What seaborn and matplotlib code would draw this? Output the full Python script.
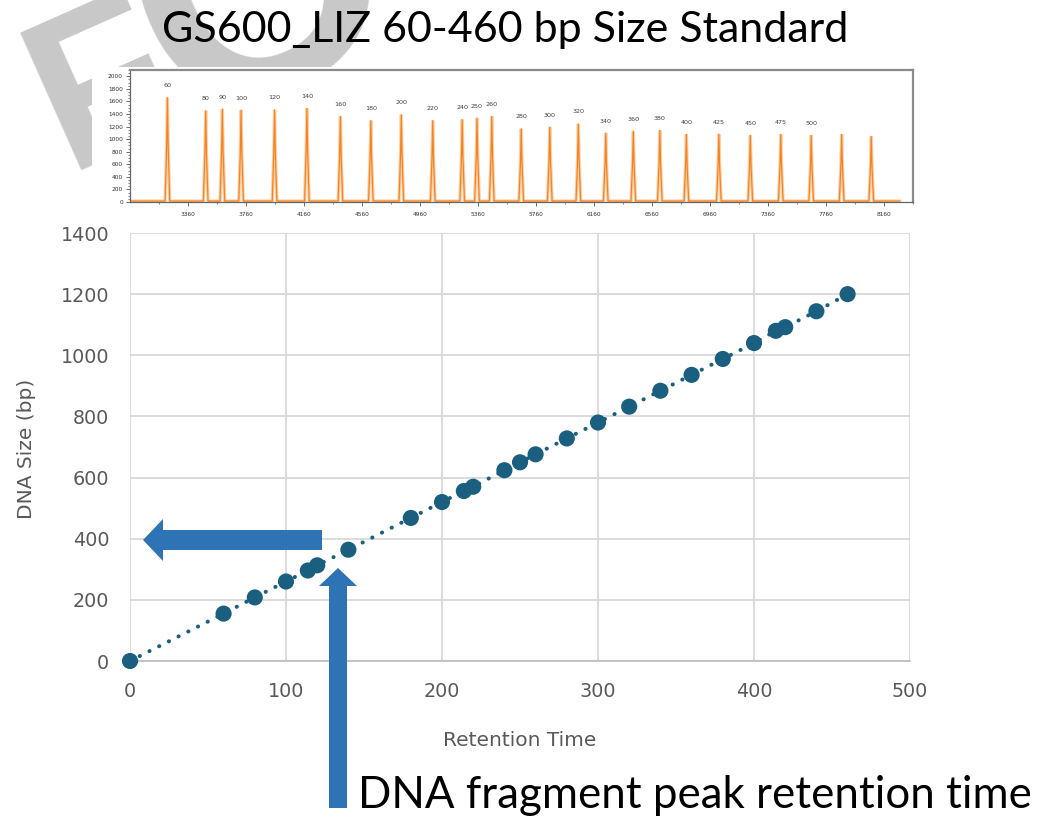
import numpy as np
import pandas as pd
import matplotlib
matplotlib.use("Agg")
import matplotlib.pyplot as plt
import seaborn as sns
from matplotlib.patches import FancyArrow, Rectangle

# ---------------- data ----------------
retention_time = [0, 60, 80, 100, 114, 120, 140, 180, 200, 214, 220, 240, 250, 260,
                  280, 300, 320, 340, 360, 380, 400, 414, 420, 440, 460]
dna_size_bp = [0, 155, 208, 260, 296, 313, 364, 468, 520, 556, 570, 624, 650, 676,
               728, 780, 832, 884, 936, 988, 1040, 1080, 1092, 1144, 1200]

# electropherogram inset (peak scan position, peak height, label)
peak_scan = [3218, 3482, 3597, 3726, 3957, 4180, 4411, 4621, 4831, 5048, 5251, 5353,
             5455, 5658, 5855, 6052, 6241, 6431, 6614, 6797, 7021, 7238, 7448, 7658,
             7868, 8072]
peak_height = [1660, 1452, 1478, 1463, 1467, 1488, 1362, 1295, 1389, 1295, 1311, 1337,
               1362, 1165, 1190, 1242, 1096, 1128, 1138, 1075, 1081, 1060, 1075, 1060,
               1075, 1044]
peak_label = ["60", "80", "90", "100", "120", "140", "160", "180", "200", "220", "240",
              "250", "260", "280", "300", "320", "340", "360", "380", "400", "425", "450",
              "475", "500", "", ""]
inset_xticks = [3360, 3760, 4160, 4560, 4960, 5360, 5760, 6160, 6560, 6960, 7360, 7760, 8160]
inset_yticks = [0, 200, 400, 600, 800, 1000, 1200, 1400, 1600, 1800, 2000]

main_xticks = [0, 100, 200, 300, 400, 500]
main_yticks = [0, 200, 400, 600, 800, 1000, 1200, 1400]

title_text = "GS600_LIZ 60-460 bp Size Standard"
note_text = "DNA fragment peak retention time"
watermark_letters = ["F", "O"]

# ---------------- figure ----------------
W, H = 1061, 821
fig = plt.figure(figsize=(W / 100, H / 100), dpi=100)
fig.patch.set_facecolor("white")

def px_axes(x0, y0, x1, y1):
    """axes rect from pixel box (top-left origin)"""
    return [x0 / W, 1 - y1 / H, (x1 - x0) / W, (y1 - y0) / H]

# background layer: watermark + white card behind inset
bg = fig.add_axes([0, 0, 1, 1], zorder=0)
bg.set_xlim(0, W)
bg.set_ylim(H, 0)
bg.axis("off")
wm_color = "#c8c8c8"
bg.text(66, 170, watermark_letters[0], fontsize=158, color=wm_color, rotation=24,
        rotation_mode="anchor", ha="left", va="baseline", family="Liberation Sans",
        fontweight="bold", zorder=0)
bg.text(183, 128, watermark_letters[1], fontsize=234, color=wm_color, rotation=24,
        rotation_mode="anchor", ha="left", va="baseline", family="Liberation Sans",
        fontweight="bold", zorder=0)
bg.add_patch(Rectangle((92, 67), 825, 150, facecolor="white", edgecolor="none", zorder=2))

# ---------------- inset electropherogram ----------------
ins = fig.add_axes(px_axes(130, 70, 913, 202), zorder=2)
ins.set_facecolor("white")
tx, ty = [2960], [15]
for p, h in zip(peak_scan, peak_height):
    tx += [p - 16, p - 5, p, p + 5, p + 16]
    ty += [15, h * 0.55, h, h * 0.55, 15]
tx += [8268]
ty += [15]
trace = pd.DataFrame({"scan": tx, "rfu": ty})
ins.plot(trace["scan"], trace["rfu"], color="#fdd0aa", lw=2.4, solid_joinstyle="miter")
ins.plot(trace["scan"], trace["rfu"], color="#f5841f", lw=0.9)
for p, h, lab in zip(peak_scan, peak_height, peak_label):
    if lab:
        ins.text(p, h + 190, lab, fontsize=4.6, color="#404040", ha="center", va="center")
ins.set_xlim(2960, 8268)
ins.set_ylim(0, 2100)
ins.set_xticks(inset_xticks)
ins.set_xticklabels([str(t) for t in inset_xticks], fontsize=4.2, color="#333333")
ins.set_xticks([3160 + 400 * i for i in range(14)], minor=True)
ins.set_yticks(inset_yticks)
ins.set_yticklabels([str(t) for t in inset_yticks], fontsize=4.2, color="#333333")
ins.set_yticks(list(range(0, 2101, 50)), minor=True)
ins.tick_params(axis="both", which="major", length=3, width=0.6, color="#555555", pad=2)
ins.tick_params(axis="both", which="minor", length=1.6, width=0.5, color="#555555")
ins.tick_params(axis="x", pad=4)
for side in ["top", "right"]:
    ins.spines[side].set_color("#8a8a8a")
    ins.spines[side].set_linewidth(1.6)
for side in ["left", "bottom"]:
    ins.spines[side].set_color("#666666")
    ins.spines[side].set_linewidth(0.9)

# ---------------- main calibration plot ----------------
ax = fig.add_axes(px_axes(130, 233, 910, 661), zorder=3)
ax.set_facecolor("none")
df = pd.DataFrame({"Retention Time": retention_time, "DNA Size (bp)": dna_size_bp})
sns.lineplot(data=df, x="Retention Time", y="DNA Size (bp)", ax=ax, color="#1a5e80",
             lw=2.9, sort=False, estimator=None, zorder=3, dashes=False)
ax.lines[-1].set_dashes((0.05, 2.65))
ax.lines[-1].set_dash_capstyle("round")
sns.scatterplot(data=df, x="Retention Time", y="DNA Size (bp)", ax=ax, color="#1a5e80",
                s=135, edgecolor="none", zorder=4, clip_on=False)
ax.set_xlim(0, 500)
ax.set_ylim(0, 1400)
ax.set_xticks(main_xticks)
ax.set_yticks(main_yticks)
tick_font = "DejaVu Sans"
ax.set_xticklabels([str(t) for t in main_xticks], fontsize=13.8, color="#595959",
                   family=tick_font)
ax.set_yticklabels([str(t) for t in main_yticks], fontsize=13.8, color="#595959",
                   family=tick_font)
ax.tick_params(axis="both", length=0, pad=15)
ax.grid(True, color="#d9d9d9", lw=1.3)
ax.set_axisbelow(True)
for side in ["top", "right", "left"]:
    ax.spines[side].set_visible(False)
ax.spines["bottom"].set_color("#bfbfbf")
ax.spines["bottom"].set_linewidth(1.3)
ax.set_xlabel("Retention Time", fontsize=14.5, color="#595959", family=tick_font)
ax.set_ylabel("DNA Size (bp)", fontsize=14.5, color="#595959", family=tick_font)
ax.xaxis.set_label_coords(0.499, -0.164)
ax.yaxis.set_label_coords(-0.121, 0.495)

# ---------------- overlay: title, arrows, note ----------------
ov = fig.add_axes([0, 0, 1, 1], zorder=5)
ov.set_xlim(0, W)
ov.set_ylim(H, 0)
ov.axis("off")
ov.patch.set_alpha(0)
ov.text(505, 30, title_text, fontsize=31, family="Lato", ha="center", va="center",
        color="black")
ov.text(358, 808, note_text, fontsize=31.6, family="Lato", ha="left", va="baseline",
        color="black")
arrow_color = "#2e74b5"
ov.add_patch(FancyArrow(322, 540, -179, 0, width=20, head_width=42, head_length=20,
                        length_includes_head=True, color=arrow_color, lw=0))
ov.add_patch(FancyArrow(338, 808, 0, -240, width=18, head_width=38, head_length=18,
                        length_includes_head=True, color=arrow_color, lw=0))

fig.savefig("out.png", dpi=100, facecolor="white")
